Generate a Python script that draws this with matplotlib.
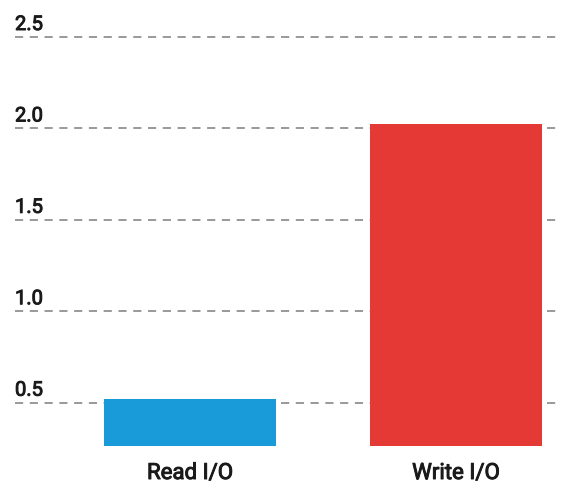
import matplotlib
matplotlib.use("Agg")
import matplotlib.pyplot as plt
import matplotlib.transforms as mtransforms
import matplotlib.patheffects as pe

categories = ["Read I/O", "Write I/O"]
values = [0.52, 2.022]
colors = ["#1a9bd9", "#e53935"]
yticks = [0.5, 1.0, 1.5, 2.0, 2.5]
ytick_labels = ["0.5", "1.0", "1.5", "2.0", "2.5"]

plt.rcParams['font.family'] = ['Roboto', 'DejaVu Sans']

fig = plt.figure(figsize=(5.64, 4.84), dpi=100)
W, H = 564, 484
left, right, top, bottom = 15, 557, 37, 446
ax = fig.add_axes([left / W, 1 - bottom / H, (right - left) / W, (bottom - top) / H])

ymin = 0.263
ax.set_ylim(ymin, 2.5)
ax.set_xlim(-0.658, 1.38)

for y in yticks:
    ax.axhline(y, color="#999999", lw=1.4, ls=(0, (4.2, 3.4)), zorder=1, clip_on=False)

x = list(range(len(categories)))
ax.bar(x, [v - ymin for v in values], bottom=ymin, width=0.647, color=colors, zorder=2)

for s in ax.spines.values():
    s.set_visible(False)
ax.set_xticks([])
ax.set_yticks([])

txtcol = '#1a1a1a'
effects = [pe.withStroke(linewidth=0.7, foreground=txtcol)]

trans = mtransforms.blended_transform_factory(ax.transAxes, ax.transData)
off = mtransforms.offset_copy(trans, fig=fig, x=0, y=7, units='dots')
for y, lab in zip(yticks, ytick_labels):
    ax.text(0, y, lab, transform=off, ha='left', va='baseline', fontsize=14.5,
            color=txtcol, path_effects=effects)

transx = mtransforms.blended_transform_factory(ax.transData, ax.transAxes)
offx = mtransforms.offset_copy(transx, fig=fig, x=0, y=-33, units='dots')
for xi, c in zip(x, categories):
    ax.text(xi, 0, c, transform=offx, ha='center', va='baseline', fontsize=16,
            color=txtcol, path_effects=effects)

fig.savefig("out.png", dpi=100)
